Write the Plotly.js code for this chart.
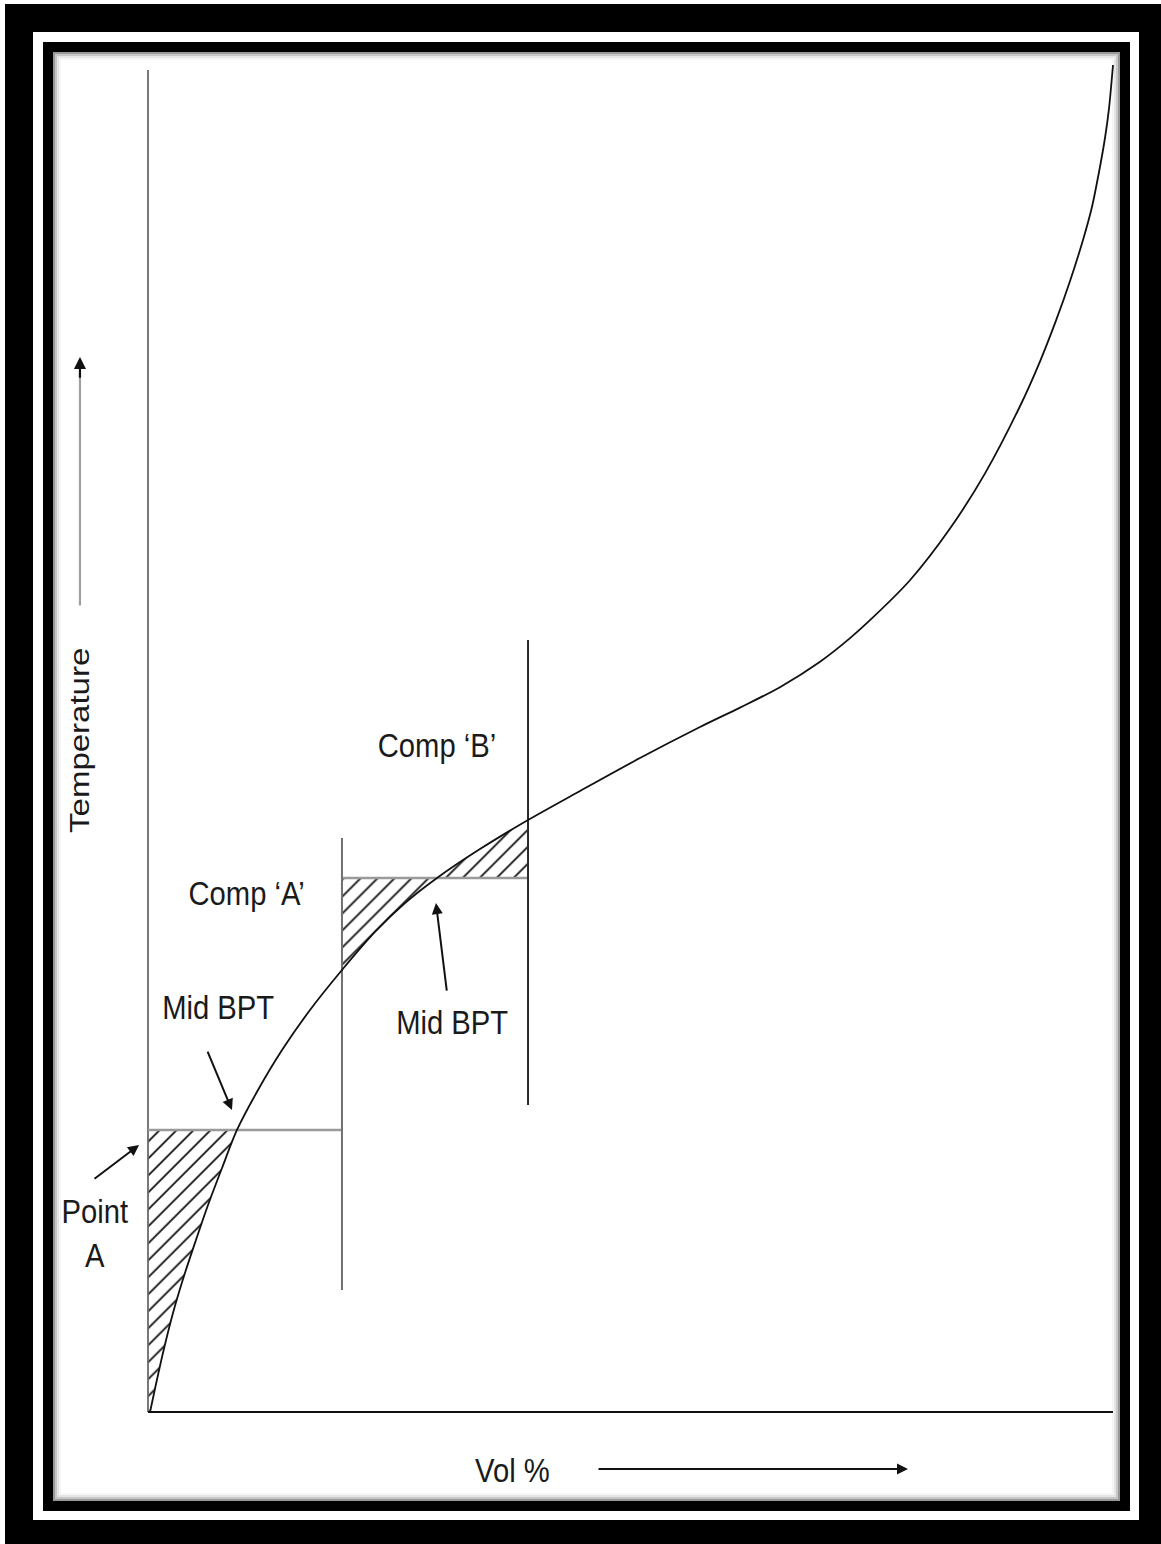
<!DOCTYPE html>
<html>
<head>
<meta charset="utf-8">
<script src="https://cdn.plot.ly/plotly-3.0.1.min.js"></script>
<style>
  html, body { margin: 0; padding: 0; background: #fff; }
  #chart { width: 1161px; height: 1544px; }
</style>
</head>
<body>
<div id="chart"></div>
<script>
// ---------- data (Vol % vs Temperature, arbitrary 0-100 units) ----------
const curveVol  = [0.21, 0.83, 1.55, 2.59, 3.73, 4.97, 6.11, 7.67, 9.22, 11.40, 13.89, 16.79, 20.10, 23.52, 26.63, 29.95, 34.40, 39.38, 44.77, 50.98, 57.20, 61.35, 65.49, 69.64, 72.75, 74.82, 78.96, 83.11, 86.74, 90.36, 92.44, 94.09, 95.54, 96.89, 97.82, 98.55, 99.17, 99.59, 100.0];
const curveTemp = [0.00, 2.07, 4.37, 7.33, 10.07, 12.74, 15.11, 18.07, 20.89, 23.85, 26.81, 29.78, 32.74, 35.56, 37.70, 39.56, 41.70, 43.85, 46.00, 48.44, 50.74, 52.18, 53.69, 55.57, 57.32, 58.65, 61.61, 65.44, 69.53, 74.50, 77.83, 80.84, 83.76, 86.81, 89.26, 91.85, 94.37, 96.59, 99.78];

// component cut points (Vol %) and mid boiling point temperatures
const cutVol      = [0.0, 20.10, 39.38];
const midBptVol   = [9.22, 29.95];
const midBptTemp  = [20.89, 39.56];
// vertical extent of the component boundary lines
const cutLineLow  = [9.04, 22.74];
const cutLineHigh = [42.52, 57.19];
const axisTopTemp = 99.4;

// ---------- helpers ----------
const W = 1161, H = 1544;
const X0PX = 148, X1PX = 1113, Y0PX = 1412, Y1PX = 62;
const sx = (X1PX - X0PX) / 100, sy = (Y0PX - Y1PX) / 100;
const xRange = [(0 - X0PX) / sx, (W - X0PX) / sx];
const yRange = [(Y0PX - H) / sy, (Y0PX - 0) / sy];

function curveBetween(lo, hi) {
  const xs = [], ys = [];
  for (let i = 0; i < curveVol.length; i++) {
    if (curveTemp[i] >= lo - 1e-9 && curveTemp[i] <= hi + 1e-9) { xs.push(curveVol[i]); ys.push(curveTemp[i]); }
  }
  return {xs, ys};
}

// hatched region 1: y-axis, mid BPT line of comp A, curve
const r1 = curveBetween(0, midBptTemp[0]);
const hatch1x = [cutVol[0], midBptVol[0]].concat(r1.xs.slice().reverse()).concat([cutVol[0]]);
const hatch1y = [midBptTemp[0], midBptTemp[0]].concat(r1.ys.slice().reverse()).concat([0]);

// hatched region 2: comp B, left of its mid BPT (below line, above curve)
const r2 = curveBetween(curveTemp[curveVol.indexOf(cutVol[1])], midBptTemp[1]);
const hatch2x = [cutVol[1], midBptVol[1]].concat(r2.xs.slice().reverse());
const hatch2y = [midBptTemp[1], midBptTemp[1]].concat(r2.ys.slice().reverse());

// hatched region 3: comp B, right of its mid BPT (above line, below curve)
const r3 = curveBetween(midBptTemp[1], curveTemp[curveVol.indexOf(cutVol[2])]);
const hatch3x = r3.xs.concat([cutVol[2], cutVol[2]]);
const hatch3y = r3.ys.concat([midBptTemp[1], midBptTemp[1]]);

const pattern = {shape: '/', size: 12, solidity: 0.15, fgcolor: '#111', bgcolor: 'rgba(0,0,0,0)'};
function hatchTrace(x, y) {
  return {x, y, type: 'scatter', mode: 'lines', fill: 'toself', fillcolor: 'rgba(255,255,255,0)',
          fillpattern: pattern, line: {width: 0, color: 'rgba(0,0,0,0)'}, hoverinfo: 'skip', showlegend: false};
}
function line(x, y, color, width) {
  return {x, y, type: 'scatter', mode: 'lines', line: {color, width}, hoverinfo: 'skip', showlegend: false};
}

const traces = [
  hatchTrace(hatch1x, hatch1y),
  hatchTrace(hatch2x, hatch2y),
  hatchTrace(hatch3x, hatch3y),
  // axes
  line([0, 0], [0, axisTopTemp], '#6a6a6a', 1.8),
  line([0, 100], [0, 0], '#111', 2.2),
  // mid BPT horizontal lines
  line([cutVol[0], cutVol[1]], [midBptTemp[0], midBptTemp[0]], '#9a9a9a', 2.6),
  line([cutVol[1], cutVol[2]], [midBptTemp[1], midBptTemp[1]], '#9a9a9a', 2.6),
  // component boundary lines
  line([cutVol[1], cutVol[1]], [cutLineLow[0], cutLineHigh[0]], '#707070', 2),
  line([cutVol[2], cutVol[2]], [cutLineLow[1], cutLineHigh[1]], '#2a2a2a', 2),
  // TBP curve
  {x: curveVol, y: curveTemp, type: 'scatter', mode: 'lines', line: {color: '#111', width: 1.8, shape: 'spline', smoothing: 0.8}, hoverinfo: 'skip', showlegend: false}
];

// ---------- frame (page decoration, in pixels) ----------
function rectPx(x0, y0, x1, y1, fill, lineColor, lineWidth) {
  return {type: 'rect', xref: 'paper', yref: 'paper', layer: 'below',
          x0: x0 / W, x1: x1 / W, y0: 1 - y1 / H, y1: 1 - y0 / H,
          fillcolor: fill || 'rgba(0,0,0,0)', line: {width: lineWidth || 0, color: lineColor || 'rgba(0,0,0,0)'}};
}
const shapes = [
  rectPx(5, 4, W, H, '#000'),
  rectPx(33, 32, 1139, 1520, '#fff'),
  rectPx(43, 42, 1130, 1511, '#000'),
  rectPx(53, 52, 1120, 1501, '#fff'),
  rectPx(54, 53, 1119, 1500, null, 'rgba(0,0,0,0.40)', 2),
  rectPx(56, 55, 1117, 1498, null, 'rgba(0,0,0,0.22)', 2),
  rectPx(58, 57, 1115, 1496, null, 'rgba(0,0,0,0.10)', 2),
  rectPx(60, 59, 1113, 1494, null, 'rgba(0,0,0,0.04)', 2)
];

const labelFont = {family: '"Liberation Sans", Arial, sans-serif', size: 34, color: '#1a1a1a'};
const vFont = {family: '"Liberation Sans", Arial, sans-serif', size: 33, color: '#1a1a1a'};

function txt(x, y, text, extra) {
  return Object.assign({x, y, xref: 'x', yref: 'y', text, showarrow: false, font: labelFont, xanchor: 'center', yanchor: 'middle'}, extra || {});
}
function arrow(x, y, axv, ayv, color, width, head) {
  return {x, y, ax: axv, ay: ayv, xref: 'x', yref: 'y', axref: 'x', ayref: 'y', text: '', showarrow: true,
          arrowhead: head === undefined ? 2 : head, arrowsize: 1.1, arrowwidth: width || 2, arrowcolor: color || '#111', standoff: 0, startstandoff: 0};
}

const annotations = [
  txt(29.95, 49.41, 'Comp ‘B’'),
  txt(10.16, 38.44, 'Comp ‘A’'),
  txt(7.25, 30.0, 'Mid BPT'),
  txt(31.50, 28.89, 'Mid BPT'),
  txt(-5.49, 13.26, 'Point<br>A'),
  txt(37.82, -4.30, 'Vol %'),
  txt(-7.05, 49.78, 'Temperature', {textangle: -90, font: vFont}),
  arrow(78.76, -4.22, 46.53, -4.22, '#111', 2),
  // temperature arrow: grey shaft, black head
  arrow(-7.05, 77.0, -7.05, 59.63, '#a0a0a0', 2.2, 0),
  arrow(-7.05, 78.15, -7.05, 76.5, '#111', 2.2),
  arrow(-0.93, 19.78, -5.70, 17.19, '#111', 2),
  arrow(8.70, 22.37, 6.11, 26.81, '#111', 2),
  arrow(29.84, 37.70, 30.98, 31.11, '#111', 2)
];

const layout = {
  width: W, height: H,
  margin: {l: 0, r: 0, t: 0, b: 0, pad: 0},
  paper_bgcolor: '#fff', plot_bgcolor: 'rgba(0,0,0,0)',
  showlegend: false,
  xaxis: {range: xRange, domain: [0, 1], visible: false, fixedrange: true},
  yaxis: {range: yRange, domain: [0, 1], visible: false, fixedrange: true},
  shapes, annotations
};

Plotly.newPlot('chart', traces, layout, {staticPlot: true, displayModeBar: false}).then(function (gd) {
  // the reference lettering is slightly condensed; squeeze the glyphs across their width
  gd.querySelectorAll('text.annotation-text').forEach(function (t) {
    t.style.transformBox = 'fill-box';
    t.style.transformOrigin = 'center';
    t.style.transform = /Temperature/.test(t.textContent) ? 'scaleY(0.85)' : 'scaleX(0.86)';
  });
});
</script>
</body>
</html>
